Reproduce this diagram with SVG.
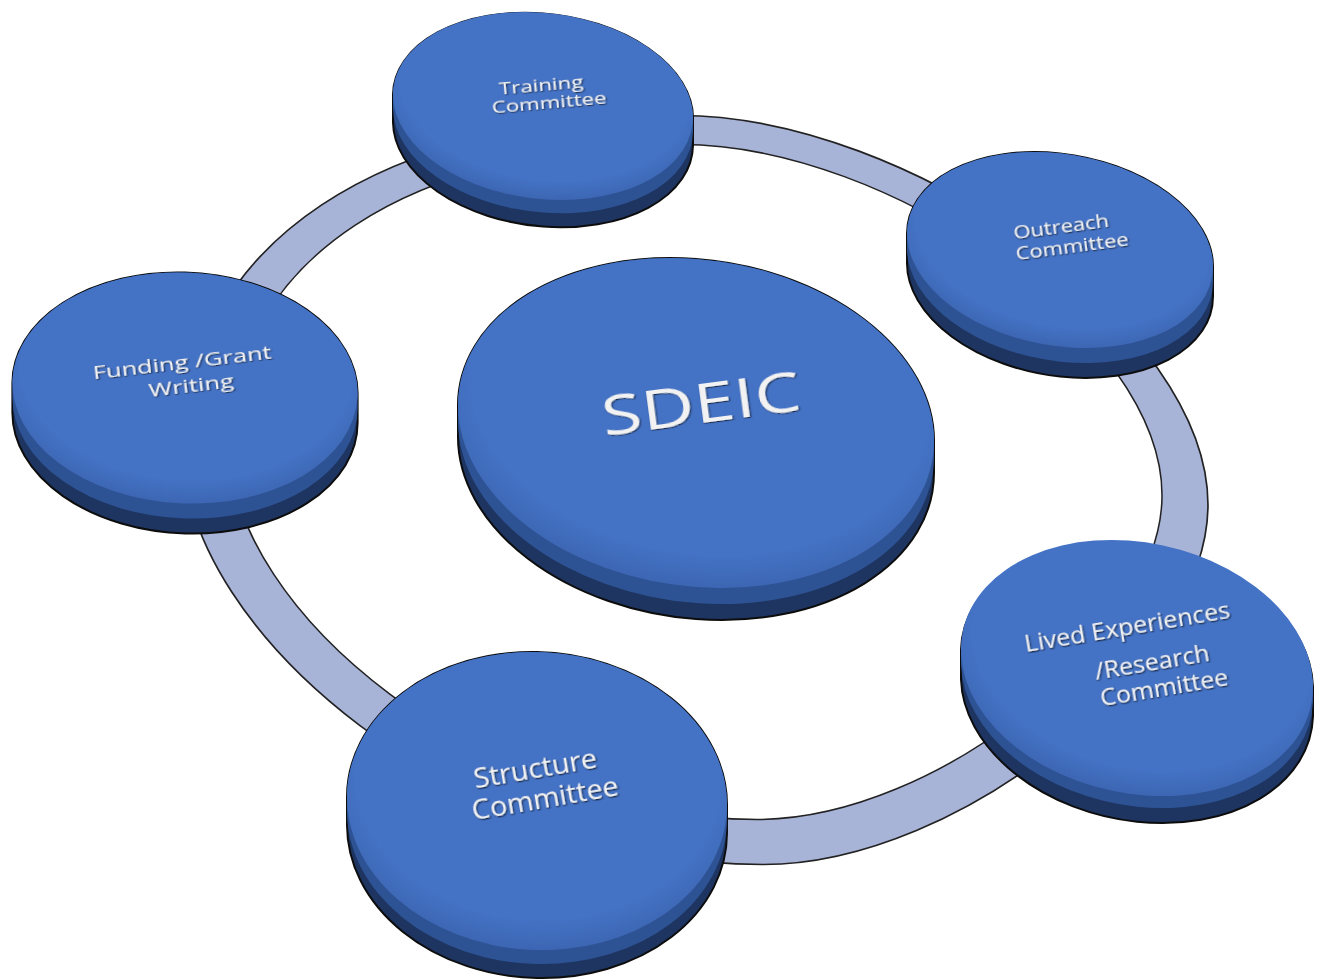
<svg xmlns="http://www.w3.org/2000/svg" width="1329" height="980" viewBox="0 0 1329 980">
<defs>
<radialGradient id="topFace" cx="0.5" cy="0.42" r="0.6">
<stop offset="0.8" stop-color="#4472c4"/>
<stop offset="1" stop-color="#3b64b0"/>
</radialGradient>
<filter id="txtShadow" x="-20%" y="-50%" width="140%" height="200%">
<feDropShadow dx="1" dy="1.5" stdDeviation="0.8" flood-color="#000" flood-opacity="0.65"/>
</filter>
<path id="ringPath" d="M 207,450 C 207,250 400,130 680,130 C 900,130 1185,330 1185,500 C 1185,650 950,842 760,842 C 470,842 207,620 207,450 Z"/>
</defs>
<style>
.ring-out{fill:#a8b3d8;stroke:#222;stroke-width:1.6}
.ring-in{fill:#fff;stroke:#222;stroke-width:1.6}
.hull{fill:#1e3561;stroke:#0d0d0d;stroke-width:2}
.mid{fill:#2e5394}
.top{fill:url(#topFace)}
.lbl{font-family:"Open Sans","Liberation Sans",sans-serif;fill:#f2f2f2;text-anchor:middle;filter:url(#txtShadow)}
</style>
<rect width="1329" height="980" fill="#fff"/>
<g id="connectors">
<use href="#ringPath" class="ring-out" transform="translate(696 409) scale(1.047 1.052) translate(-696 -409)"/>
<use href="#ringPath" class="ring-in" transform="translate(696 409) scale(0.953 0.948) translate(-696 -409)"/>
</g>
<g id="node-sdeic">
<path class="hull" d="M 458,405.3 A 239.2 163.2 8 0 1 934,440.7 L 934,472.7 A 239.2 163.2 8 0 1 458,437.3 Z"/>
<path class="mid" d="M 458,405.3 A 239.2 163.2 8 0 1 934,440.7 L 934,456.7 A 239.2 163.2 8 0 1 458,421.3 Z"/>
<ellipse class="top" cx="696" cy="423" rx="239.2" ry="163.2" transform="rotate(8 696 423)"/>
<text class="lbl" font-size="73" transform="translate(701 404) rotate(-7.5) scale(1 0.74)" x="0" y="26">SDEIC</text>
</g>
<g id="node-training">
<path class="hull" d="M 393,94.6 A 150.7 92.9 7 0 1 693,117.4 L 693,145.4 A 150.7 92.9 7 0 1 393,122.6 Z"/>
<path class="mid" d="M 393,94.6 A 150.7 92.9 7 0 1 693,117.4 L 693,131.4 A 150.7 92.9 7 0 1 393,108.6 Z"/>
<ellipse class="top" cx="543" cy="106" rx="150.7" ry="92.9" transform="rotate(7 543 106)"/>
<text class="lbl" font-size="22.3" transform="translate(541 85) rotate(-5) scale(1 0.77)"><tspan x="0" y="8">Training</tspan><tspan x="6.5" y="30.9">Committee</tspan></text>
</g>
<g id="node-outreach">
<path class="hull" d="M 907,233.6 A 154.4 95.7 10 0 1 1213,266.4 L 1213,296.4 A 154.4 95.7 10 0 1 907,263.6 Z"/>
<path class="mid" d="M 907,233.6 A 154.4 95.7 10 0 1 1213,266.4 L 1213,281.4 A 154.4 95.7 10 0 1 907,248.6 Z"/>
<ellipse class="top" cx="1060" cy="250" rx="154.4" ry="95.7" transform="rotate(10 1060 250)"/>
<text class="lbl" font-size="22" transform="translate(1061 226) rotate(-7.5) scale(1 0.86)"><tspan x="0" y="7.9">Outreach</tspan><tspan x="8.3" y="32.7">Committee</tspan></text>
</g>
<g id="node-funding">
<path class="hull" d="M 12.4,383 A 172.7 115.4 3 0 1 357.6,393 L 357.6,423 A 172.7 115.4 3 0 1 12.4,413 Z"/>
<path class="mid" d="M 12.4,383 A 172.7 115.4 3 0 1 357.6,393 L 357.6,408 A 172.7 115.4 3 0 1 12.4,398 Z"/>
<ellipse class="top" cx="185" cy="388" rx="172.7" ry="115.4" transform="rotate(3 185 388)"/>
<text class="lbl" font-size="25.5" transform="translate(182 362) rotate(-6.7) scale(1 0.73)"><tspan x="0" y="9.2">Funding /Grant</tspan><tspan x="6.3" y="41.9">Writing</tspan></text>
</g>
<g id="node-lived">
<path class="hull" d="M 961,649.5 A 178 125.3 12 0 1 1313,686.5 L 1313,716.5 A 178 125.3 12 0 1 961,679.5 Z"/>
<path class="mid" d="M 961,649.5 A 178 125.3 12 0 1 1313,686.5 L 1313,701.5 A 178 125.3 12 0 1 961,664.5 Z"/>
<ellipse class="top" cx="1137" cy="668" rx="178" ry="125.3" transform="rotate(12 1137 668)"/>
<text class="lbl" font-size="25" transform="translate(1127 626) rotate(-9.5) scale(1 0.95)"><tspan x="0" y="9">Lived Experiences</tspan><tspan x="18.7" y="50.7">/Research</tspan><tspan x="26.4" y="78.8">Committee</tspan></text>
</g>
<g id="node-structure">
<path class="hull" d="M 347,797.2 A 190.1 148.9 3 0 1 727,804.8 L 727,832.8 A 190.1 148.9 3 0 1 347,825.2 Z"/>
<path class="mid" d="M 347,797.2 A 190.1 148.9 3 0 1 727,804.8 L 727,818.8 A 190.1 148.9 3 0 1 347,811.2 Z"/>
<ellipse class="top" cx="537" cy="801" rx="190.1" ry="148.9" transform="rotate(3 537 801)"/>
<text class="lbl" font-size="28.7" transform="translate(535 768) rotate(-9.8) scale(1 0.95)"><tspan x="0" y="10.3">Structure</tspan><tspan x="4.75" y="43.3">Committee</tspan></text>
</g>
</svg>
